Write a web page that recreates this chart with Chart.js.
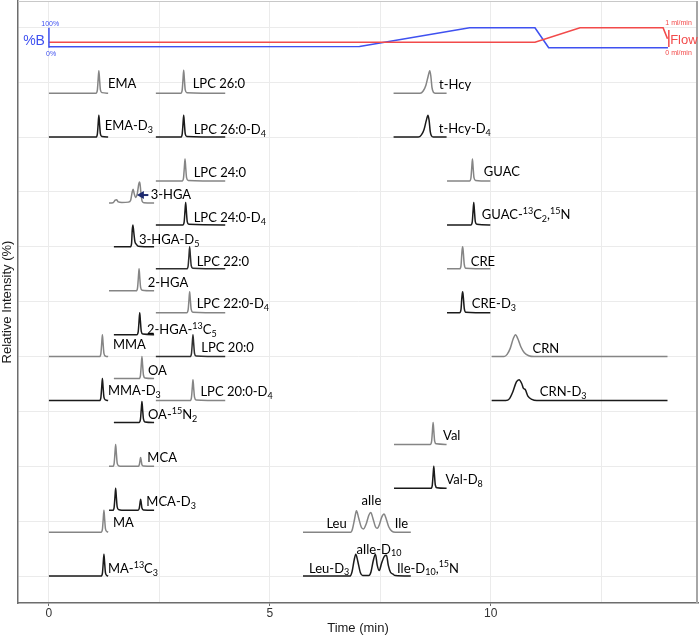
<!DOCTYPE html>
<html><head><meta charset="utf-8">
<script src="https://cdn.jsdelivr.net/npm/chart.js@4.4.1/dist/chart.umd.min.js"></script>
<style>html,body{margin:0;padding:0;background:#fff;}#wrap{width:700px;height:636px;}</style>
</head><body><div id="wrap"><canvas id="c" width="700" height="636"></canvas></div>
<script>
// ---- axis ticks ----
const xTickLabels = [0, 5, 10];

// ---- gradient (%B) and flow ----
const gradTime = [0, 7.03, 9.52, 11.0, 11.31, 14.01];
const gradB    = [5, 6, 100, 100, 0, 0];
const flowTime = [0, 11.0, 12.02, 13.9, 14.0];
const flowRate = [0.27, 0.27, 1.0, 1.0, 0.45];

// ---- chromatogram traces: [time (min), relative intensity] ----
const EMA      = [[0,0],[1.065,0],[1.095,0.05],[1.115,0.26],[1.13,0.41],[1.145,0.26],[1.165,0.06],[1.20,0.01],[1.34,0]];
const LPC26    = [[2.42,0],[2.985,0],[3.015,0.05],[3.035,0.26],[3.05,0.42],[3.065,0.26],[3.085,0.06],[3.12,0.01],[3.99,0]];
const THCY     = [[7.80,0],[8.40,0],[8.47,0.04],[8.53,0.14],[8.58,0.3],[8.62,0.41],[8.645,0.3],[8.67,0.1],[8.70,0.02],[8.74,0],[9.0,0]];
const EMA_D3   = [[0,0],[1.065,0],[1.095,0.05],[1.115,0.25],[1.13,0.4],[1.145,0.25],[1.165,0.06],[1.20,0.01],[1.34,0]];
const LPC26_D4 = [[2.42,0],[2.985,0],[3.015,0.05],[3.035,0.25],[3.05,0.4],[3.065,0.25],[3.085,0.06],[3.12,0.01],[3.99,0]];
const THCY_D4  = [[7.80,0],[8.36,0],[8.43,0.04],[8.49,0.14],[8.54,0.3],[8.58,0.4],[8.605,0.3],[8.63,0.1],[8.66,0.02],[8.70,0],[9.0,0]];
const LPC24    = [[2.42,0],[3.015,0],[3.045,0.05],[3.065,0.25],[3.08,0.4],[3.095,0.25],[3.115,0.06],[3.15,0.01],[3.99,0]];
const GUAC     = [[9.01,0],[9.52,0],[9.55,0.05],[9.57,0.25],[9.585,0.4],[9.6,0.25],[9.62,0.06],[9.655,0.01],[9.99,0]];
const HGA3     = [[1.36,0],[1.45,0.005],[1.50,0.05],[1.53,0.06],[1.57,0.02],[1.65,0.01],[1.80,0.015],[1.85,0.05],[1.885,0.2],[1.905,0.25],[1.93,0.17],[1.96,0.1],[2.0,0.17],[2.035,0.35],[2.055,0.38],[2.08,0.2],[2.11,0.03],[2.15,0.005],[2.38,0]];
const LPC24_D4 = [[2.42,0],[3.03,0],[3.06,0.05],[3.08,0.26],[3.095,0.41],[3.11,0.26],[3.13,0.06],[3.165,0.01],[3.99,0]];
const GUAC_IS  = [[9.01,0],[9.55,0],[9.58,0.05],[9.6,0.26],[9.615,0.41],[9.63,0.26],[9.65,0.06],[9.685,0.01],[9.99,0]];
const HGA3_D5  = [[1.47,0],[1.84,0],[1.87,0.06],[1.885,0.3],[1.90,0.4],[1.92,0.27],[1.945,0.1],[1.975,0.05],[2.02,0.01],[2.38,0]];
const LPC22    = [[2.42,0],[3.12,0],[3.15,0.05],[3.17,0.25],[3.185,0.4],[3.2,0.25],[3.22,0.06],[3.255,0.01],[3.99,0]];
const CRE      = [[9.01,0],[9.295,0],[9.325,0.05],[9.345,0.28],[9.355,0.37],[9.365,0.4],[9.38,0.28],[9.40,0.08],[9.435,0.01],[9.99,0]];
const HGA2     = [[1.36,0],[1.975,0],[2.005,0.05],[2.025,0.25],[2.04,0.4],[2.055,0.25],[2.075,0.06],[2.11,0.01],[2.38,0]];
const LPC22_D4 = [[2.42,0],[3.12,0],[3.15,0.05],[3.17,0.24],[3.185,0.38],[3.2,0.24],[3.22,0.06],[3.255,0.01],[3.99,0]];
const CRE_D3   = [[9.01,0],[9.295,0],[9.325,0.05],[9.345,0.27],[9.355,0.35],[9.365,0.38],[9.38,0.27],[9.40,0.08],[9.435,0.01],[9.99,0]];
const HGA2_IS  = [[1.47,0],[1.99,0],[2.02,0.05],[2.04,0.25],[2.055,0.4],[2.07,0.25],[2.09,0.06],[2.125,0.01],[2.38,0]];
const MMA      = [[0,0],[1.145,0],[1.175,0.05],[1.195,0.25],[1.21,0.4],[1.225,0.25],[1.245,0.06],[1.28,0.01],[1.34,0]];
const LPC20    = [[2.42,0],[3.195,0],[3.225,0.05],[3.245,0.25],[3.26,0.4],[3.275,0.25],[3.295,0.06],[3.33,0.01],[3.99,0]];
const CRN      = [[10.02,0],[10.30,0],[10.37,0.04],[10.44,0.15],[10.51,0.33],[10.56,0.4],[10.61,0.33],[10.68,0.18],[10.76,0.07],[10.86,0.015],[10.98,0],[14.0,0]];
const OA       = [[1.47,0],[2.04,0],[2.07,0.05],[2.09,0.25],[2.105,0.4],[2.12,0.25],[2.14,0.06],[2.175,0.01],[2.38,0]];
const MMA_D3   = [[0,0],[1.145,0],[1.175,0.05],[1.195,0.25],[1.21,0.4],[1.225,0.25],[1.245,0.06],[1.28,0.01],[1.34,0]];
const LPC20_D4 = [[2.42,0],[3.195,0],[3.225,0.05],[3.245,0.24],[3.26,0.38],[3.275,0.24],[3.295,0.06],[3.33,0.01],[3.99,0]];
const CRN_D3   = [[10.02,0],[10.34,0],[10.42,0.03],[10.50,0.16],[10.58,0.34],[10.64,0.38],[10.70,0.31],[10.74,0.22],[10.78,0.2],[10.84,0.08],[10.93,0.02],[11.04,0],[14.0,0]];
const OA_IS    = [[1.47,0],[2.04,0],[2.07,0.05],[2.09,0.24],[2.105,0.38],[2.12,0.24],[2.14,0.06],[2.175,0.01],[2.38,0]];
const VAL      = [[7.81,0],[8.63,0],[8.66,0.05],[8.68,0.25],[8.695,0.4],[8.71,0.25],[8.73,0.06],[8.765,0.01],[9.0,0]];
const MCA      = [[1.36,0],[1.445,0],[1.475,0.05],[1.495,0.25],[1.51,0.4],[1.525,0.25],[1.545,0.06],[1.58,0.01],[1.65,0],[2.02,0],[2.045,0.03],[2.063,0.11],[2.075,0.16],[2.088,0.11],[2.105,0.03],[2.14,0.005],[2.38,0]];
const VAL_D8   = [[7.81,0],[8.645,0],[8.675,0.05],[8.695,0.25],[8.71,0.4],[8.725,0.25],[8.745,0.06],[8.78,0.01],[9.0,0]];
const MCA_D3   = [[1.36,0],[1.445,0],[1.475,0.05],[1.495,0.25],[1.51,0.4],[1.525,0.25],[1.545,0.06],[1.58,0.01],[1.65,0],[2.02,0],[2.045,0.04],[2.063,0.14],[2.075,0.2],[2.088,0.14],[2.105,0.04],[2.14,0.005],[2.38,0]];
const MA       = [[0,0],[1.18,0],[1.21,0.05],[1.23,0.25],[1.245,0.4],[1.26,0.25],[1.28,0.06],[1.315,0.01],[1.34,0]];
const LEU      = [[5.75,0],[6.83,0],[6.87,0.06],[6.92,0.25],[6.96,0.39],[7.01,0.26],[7.07,0.09],[7.12,0.06],[7.18,0.15],[7.24,0.31],[7.285,0.36],[7.33,0.26],[7.39,0.1],[7.43,0.07],[7.48,0.14],[7.53,0.27],[7.585,0.33],[7.63,0.25],[7.69,0.1],[7.76,0.02],[7.84,0],[8.19,0]];
const MA_IS    = [[0,0],[1.18,0],[1.21,0.05],[1.23,0.25],[1.245,0.4],[1.26,0.25],[1.28,0.06],[1.315,0.01],[1.34,0]];
const LEU_D3   = [[5.75,0],[6.81,0],[6.86,0.08],[6.905,0.28],[6.945,0.4],[6.99,0.27],[7.05,0.06],[7.10,0.01],[7.24,0.01],[7.29,0.08],[7.34,0.28],[7.39,0.4],[7.43,0.2],[7.475,0.1],[7.53,0.24],[7.59,0.36],[7.64,0.38],[7.68,0.2],[7.73,0.07],[7.78,0.04],[7.84,0.01],[8.19,0]];

const traceData    = [EMA, LPC26, THCY, EMA_D3, LPC26_D4, THCY_D4, LPC24, GUAC, HGA3, LPC24_D4, GUAC_IS, HGA3_D5, LPC22, CRE, HGA2, LPC22_D4, CRE_D3, HGA2_IS, MMA, LPC20, CRN, OA, MMA_D3, LPC20_D4, CRN_D3, OA_IS, VAL, MCA, VAL_D8, MCA_D3, MA, LEU, MA_IS, LEU_D3];
const traceOffsets = [8.8, 8.8, 8.8, 8.0, 8.0, 8.0, 7.2, 7.2, 6.8, 6.4, 6.4, 6.0, 5.6, 5.6, 5.2, 4.8, 4.8, 4.4, 4.0, 4.0, 4.0, 3.6, 3.2, 3.2, 3.2, 2.8, 2.4, 2.0, 1.6, 1.2, 0.8, 0.8, 0.0, 0.0];

// ---- compound labels (markup: _{sub}, ^{sup}) ----
const labelText  = ['EMA','LPC 26:0','t-Hcy','EMA-D_{3}','LPC 26:0-D_{4}','t-Hcy-D_{4}','LPC 24:0','GUAC','3-HGA','LPC 24:0-D_{4}','GUAC-^{13}C_{2},^{15}N','3-HGA-D_{5}','LPC 22:0','CRE','2-HGA','LPC 22:0-D_{4}','CRE-D_{3}','2-HGA-^{13}C_{5}','MMA','LPC 20:0','CRN','OA','MMA-D_{3}','LPC 20:0-D_{4}','CRN-D_{3}','OA-^{15}N_{2}','Val','MCA','Val-D_{8}','MCA-D_{3}','MA','Leu','aIle','Ile','MA-^{13}C_{3}','Leu-D_{3}','aIle-D_{10}','Ile-D_{10},^{15}N'];
const labelTime  = [1.336,3.253,8.829,1.261,3.276,8.823,3.276,9.842,2.302,3.276,9.797,2.038,3.344,9.547,2.235,3.344,9.570,2.219,1.449,3.450,10.944,2.241,1.336,3.428,11.110,2.241,8.920,2.228,8.974,2.205,1.449,6.280,7.073,7.827,1.336,5.886,6.959,7.879];
const labelLevel = [8.967,8.967,8.948,8.202,8.129,8.147,7.349,7.368,6.944,6.525,6.580,6.124,5.723,5.723,5.340,4.957,4.957,4.483,4.210,4.155,4.137,3.736,3.372,3.353,3.353,2.934,2.552,2.150,1.750,1.349,0.966,0.948,1.367,0.960,0.128,0.140,0.487,0.140];

// arrow pointing at 3-HGA peak: [time start, time end], level
const arrowTimes = [2.25, 1.99];
const arrowLevel = [6.944];

// ---- styles ----
const GRAY = '#858585', DARK = '#1a1a1a', MID = '#2e2e2e';
const traceColors = [GRAY,GRAY,GRAY,DARK,DARK,DARK,GRAY,GRAY,GRAY,DARK,DARK,DARK,MID,GRAY,GRAY,GRAY,DARK,DARK,GRAY,MID,GRAY,GRAY,DARK,GRAY,DARK,DARK,GRAY,GRAY,DARK,DARK,GRAY,GRAY,DARK,DARK];
const BLUE = '#3f51f0', RED = '#f24a4a';
const LABEL_FONT = '13px Lato, "Open Sans", sans-serif';
const SMALL_FONT = '9px Lato, "Open Sans", sans-serif';

const datasets = [];
datasets.push({ label:'Flow', yAxisID:'yf', data: flowTime.map((t,i)=>({x:t,y:flowRate[i]})), borderColor:RED, borderWidth:1.6, pointRadius:0, tension:0 });
datasets.push({ label:'%B', yAxisID:'yg', data: gradTime.map((t,i)=>({x:t,y:gradB[i]})), borderColor:BLUE, borderWidth:1.6, pointRadius:0, tension:0 });
traceData.forEach((pts, i) => {
  datasets.push({ label:'t'+i, yAxisID:'y', data: pts.map(p => ({x:p[0], y:traceOffsets[i] + p[1]})),
    borderColor: traceColors[i], borderWidth: 1.5, pointRadius: 0, cubicInterpolationMode:'monotone' });
});

function drawRich(ctx, str, x, y) {
  const re = /([_^])\{([^}]*)\}|([^_^]+)/g; let m;
  while ((m = re.exec(str))) {
    if (m[3]) { ctx.font = LABEL_FONT; ctx.fillText(m[3], x, y); x += ctx.measureText(m[3]).width; }
    else { ctx.font = SMALL_FONT; const dy = m[1] === '_' ? 4 : -4; ctx.fillText(m[2], x, y + dy); x += ctx.measureText(m[2]).width; }
  }
}

const annot = {
  id: 'annot',
  afterDatasetsDraw(chart) {
    const {ctx, chartArea: a, scales} = chart;
    const xs = scales.x, ys = scales.y, yg = scales.yg, yf = scales.yf;
    ctx.save();
    // frame top / right
    ctx.strokeStyle = '#c8c8c8'; ctx.lineWidth = 1;
    ctx.beginPath(); ctx.moveTo(a.left, a.top + 0.5); ctx.lineTo(a.right, a.top + 0.5); ctx.stroke();
    ctx.strokeStyle = '#a6a6a6'; ctx.lineWidth = 2;
    ctx.beginPath(); ctx.moveTo(a.right - 1, a.top); ctx.lineTo(a.right - 1, a.bottom); ctx.stroke();
    // gradient axes
    ctx.lineWidth = 1.5;
    ctx.strokeStyle = BLUE;
    ctx.beginPath(); ctx.moveTo(xs.getPixelForValue(0), yg.getPixelForValue(0)); ctx.lineTo(xs.getPixelForValue(0), yg.getPixelForValue(100)); ctx.stroke();
    ctx.strokeStyle = RED;
    ctx.beginPath(); ctx.moveTo(xs.getPixelForValue(14.03), yf.getPixelForValue(0.03)); ctx.lineTo(xs.getPixelForValue(14.03), yf.getPixelForValue(0.88)); ctx.stroke();
    // gradient texts
    ctx.textBaseline = 'middle';
    ctx.fillStyle = BLUE;
    ctx.font = '14px "Liberation Sans", Arial, sans-serif'; ctx.textAlign = 'right';
    ctx.fillText('%B', xs.getPixelForValue(-0.09), yg.getPixelForValue(35));
    ctx.font = '7px "Liberation Sans", Arial, sans-serif'; ctx.textAlign = 'center';
    ctx.fillText('100%', xs.getPixelForValue(0.03), yg.getPixelForValue(118));
    ctx.fillText('0%', xs.getPixelForValue(0.05), yg.getPixelForValue(-32));
    ctx.fillStyle = RED;
    ctx.font = '13px "Liberation Sans", Arial, sans-serif'; ctx.textAlign = 'left';
    ctx.fillText('Flow', xs.getPixelForValue(14.06), yf.getPixelForValue(0.38));
    ctx.font = '7px "Liberation Sans", Arial, sans-serif'; ctx.textAlign = 'center';
    ctx.fillText('1 ml/min', xs.getPixelForValue(14.25), yf.getPixelForValue(1.25));
    ctx.fillText('0 ml/min', xs.getPixelForValue(14.25), yf.getPixelForValue(-0.28));
    // compound labels
    ctx.fillStyle = '#000'; ctx.textAlign = 'left'; ctx.textBaseline = 'middle';
    labelText.forEach((s, i) => drawRich(ctx, s, xs.getPixelForValue(labelTime[i]), ys.getPixelForValue(labelLevel[i])));
    // arrow
    const ax0 = xs.getPixelForValue(arrowTimes[0]), ax1 = xs.getPixelForValue(arrowTimes[1]), ay = ys.getPixelForValue(arrowLevel[0]);
    ctx.strokeStyle = '#1d2a6e'; ctx.fillStyle = '#1d2a6e'; ctx.lineWidth = 2;
    ctx.beginPath(); ctx.moveTo(ax0, ay); ctx.lineTo(ax1 + 5, ay); ctx.stroke();
    ctx.beginPath(); ctx.moveTo(ax1, ay); ctx.lineTo(ax1 + 7, ay - 4); ctx.lineTo(ax1 + 7, ay + 4); ctx.closePath(); ctx.fill();
    ctx.restore();
  }
};

new Chart(document.getElementById('c'), {
  type: 'line',
  data: { datasets },
  options: {
    responsive: false, animation: false, parsing: true,
    layout: { padding: { left: 0, right: 2, top: 1, bottom: 0 } },
    plugins: { legend: { display: false }, tooltip: { enabled: false } },
    scales: {
      x: {
        type: 'linear', min: -0.70, max: 14.69,
        grid: { color: '#ebebeb', lineWidth: 1, tickLength: 3,
                tickColor: c => (c.tick && xTickLabels.includes(c.tick.value)) ? '#6d6d6d' : 'rgba(0,0,0,0)' },
        border: { display: true, color: '#6d6d6d', width: 1.5 },
        ticks: { stepSize: 2.5, includeBounds: false, autoSkip: false, maxRotation: 0, padding: 0,
                 color: '#333', font: { family: '"Liberation Sans", Arial, sans-serif', size: 12 },
                 callback: v => xTickLabels.includes(v) ? String(v) : '' },
        title: { display: true, text: 'Time (min)', color: '#1a1a1a', padding: 0,
                 font: { family: '"Liberation Sans", Arial, sans-serif', size: 13 } }
      },
      y: {
        type: 'linear', position: 'left', min: -0.49, max: 10.48,
        grid: { color: '#ebebeb', lineWidth: 1, drawTicks: false },
        border: { display: true, color: '#6d6d6d', width: 1.5 },
        ticks: { stepSize: 1, includeBounds: false, display: false },
        title: { display: true, text: 'Relative Intensity (%)', color: '#1a1a1a', padding: { top: 0, bottom: 2.4 },
                 font: { family: '"Liberation Sans", Arial, sans-serif', size: 13 } }
      },
      yg: { type: 'linear', display: false, min: -2776.5, max: 233.5 },
      yf: { type: 'linear', display: false, min: -27.765, max: 2.335 }
    }
  },
  plugins: [annot]
});
</script></body></html>
